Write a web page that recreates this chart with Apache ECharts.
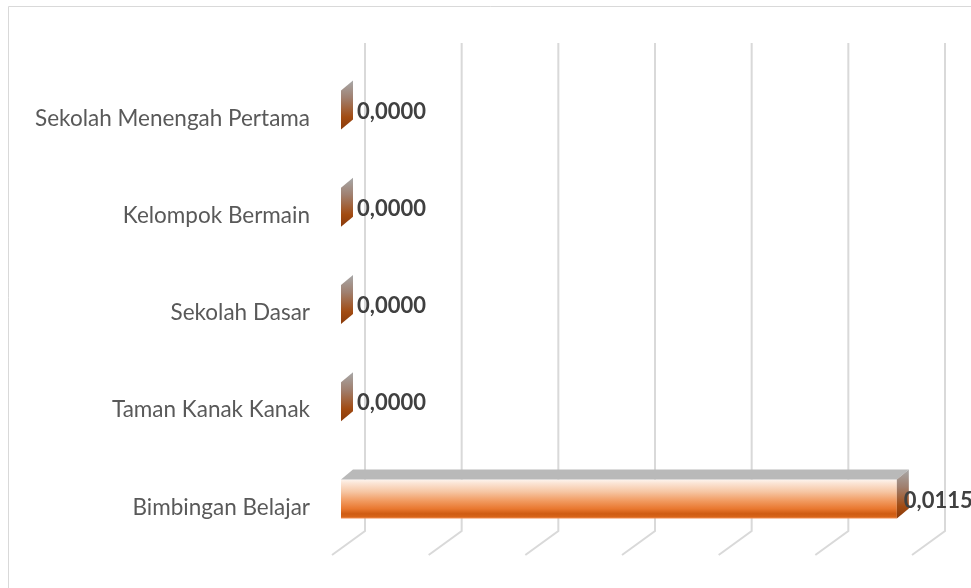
<!DOCTYPE html>
<html>
<head>
<meta charset="utf-8">
<script src="https://cdn.jsdelivr.net/npm/echarts@6/dist/echarts.min.js"></script>
<style>
  html, body { margin: 0; padding: 0; background: #ffffff; }
  #chart { width: 971px; height: 588px; }
</style>
</head>
<body>
<div id="chart"></div>
<script>
// ---- data ----
var categories = ['Bimbingan Belajar', 'Taman Kanak Kanak', 'Sekolah Dasar', 'Kelompok Bermain', 'Sekolah Menengah Pertama'];
var values = [0.0115, 0, 0, 0, 0];
var gridTicks = [0, 0.002, 0.004, 0.006, 0.008, 0.010, 0.012];

var FONT = 'Lato, "Noto Sans", sans-serif';

function fmt(v) { return v.toFixed(4).replace('.', ','); }

var chart = echarts.init(document.getElementById('chart'), null, { renderer: 'canvas' });

var barData = values.map(function (v, i) { return [v, i]; });
var tickData = gridTicks.map(function (t) { return [t, 0]; });

// 3D depth offsets
var BDX = 12, BDY = -10;      // bar depth
var BAR_H = 39;

var option = {
  backgroundColor: '#ffffff',
  animation: false,
  grid: { left: 341, right: 50, top: 61.4, bottom: 40.4, containLabel: false },
  xAxis: {
    type: 'value', min: 0, max: 0.012, interval: 0.002,
    axisLabel: { show: false }, axisLine: { show: false }, axisTick: { show: false },
    splitLine: { show: false }
  },
  yAxis: {
    type: 'category', data: categories,
    axisLine: { show: false }, axisTick: { show: false }, splitLine: { show: false },
    axisLabel: {
      margin: 31,
      formatter: function (v) { return '{c|' + v + '}'; },
      rich: {
        c: {
          color: '#595959', fontSize: 22.5, fontFamily: FONT,
          padding: [17, 0, 0, 0]
        }
      }
    }
  },
  graphic: [{
    type: 'rect', silent: true, z: -10,
    shape: { x: 8.5, y: 6.5, width: 1000, height: 700 },
    style: { fill: 'none', stroke: '#d9d9d9', lineWidth: 1 }
  }],
  series: [
    {
      type: 'custom', name: 'grid', silent: true, z: 1,
      data: tickData,
      encode: { x: 0, y: 1 },
      renderItem: function (params, api) {
        var p = api.coord([api.value(0), 0]);
        var x = p[0];
        return {
          type: 'polyline',
          shape: { points: [[x - 9, 555], [x + 24, 531], [x + 24, 43]] },
          style: { stroke: '#d9d9d9', lineWidth: 2, fill: 'none' }
        };
      }
    },
    {
      type: 'custom', name: 'bars', z: 5,
      data: barData,
      encode: { x: 0, y: 1 },
      renderItem: function (params, api) {
        var v = api.value(0);
        var idx = api.value(1);
        var p0 = api.coord([0, idx]);
        var p1 = api.coord([v, idx]);
        var x0 = p0[0], x1 = p1[0], cy = p0[1];
        var yt = cy - BAR_H / 2, yb = cy + BAR_H / 2;
        var children = [];
        if (x1 - x0 > 0.5) {
          children.push({
            type: 'rect',
            shape: { x: x0, y: yt, width: x1 - x0, height: BAR_H },
            style: {
              fill: new echarts.graphic.LinearGradient(0, 0, 0, 1, [
                { offset: 0, color: '#fdf4ee' },
                { offset: 0.1, color: '#fbe4d4' },
                { offset: 0.32, color: '#f6c5a2' },
                { offset: 0.55, color: '#f19a60' },
                { offset: 0.75, color: '#e97830' },
                { offset: 0.88, color: '#cf5c13' },
                { offset: 0.95, color: '#d66419' },
                { offset: 1, color: '#f08c50' }
              ])
            }
          });
          children.push({
            type: 'polygon',
            shape: { points: [[x0, yt], [x1, yt], [x1 + BDX, yt + BDY], [x0 + BDX, yt + BDY]] },
            style: { fill: '#b9b9b9' }
          });
        }
        children.push({
          type: 'polygon',
          shape: { points: [[x1, yt], [x1 + BDX, yt + BDY], [x1 + BDX, yb + BDY], [x1, yb]] },
          style: {
            fill: new echarts.graphic.LinearGradient(0, 0, 0, 1, [
              { offset: 0, color: '#a8a8a8' },
              { offset: 0.35, color: '#a08070' },
              { offset: 0.75, color: '#a24b12' },
              { offset: 1, color: '#8a3a0a' }
            ])
          }
        });
        children.push({
          type: 'text',
          z2: 10,
          style: {
            x: Math.max(x1 + 7, x0 + 16),
            y: cy + 1.5,
            text: fmt(v),
            fill: '#404040',
            fontSize: 22,
            fontWeight: 'bold',
            fontFamily: FONT,
            verticalAlign: 'middle',
            align: 'left'
          }
        });
        return { type: 'group', children: children };
      }
    }
  ]
};

chart.setOption(option);
</script>
</body>
</html>
